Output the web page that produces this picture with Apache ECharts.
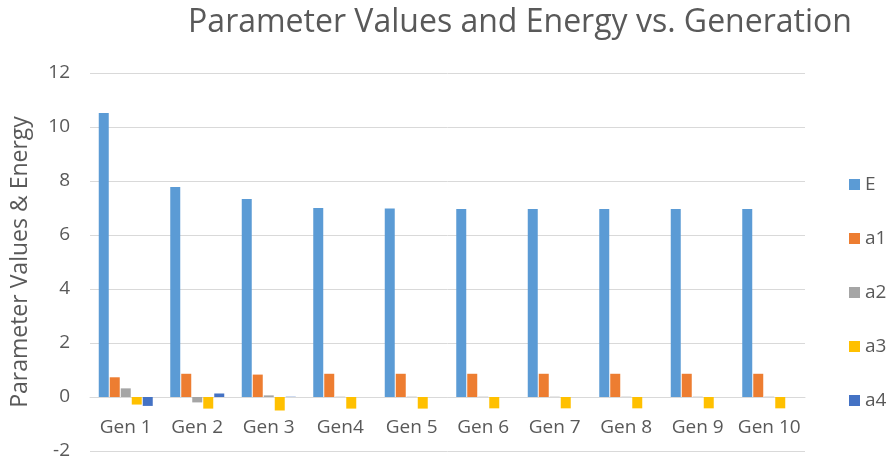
<!DOCTYPE html>
<html><head><meta charset="utf-8">
<script src="https://cdn.jsdelivr.net/npm/echarts@6/dist/echarts.min.js"></script>
<style>html,body{margin:0;padding:0;background:#fff}#c{width:894px;height:462px}</style>
</head><body><div id="c"></div>
<script>
const categories = ['Gen 1','Gen 2','Gen 3','Gen4','Gen 5','Gen 6','Gen 7','Gen 8','Gen 9','Gen 10'];
const E  = [10.52, 7.78, 7.33, 7.0, 6.98, 6.96, 6.96, 6.96, 6.96, 6.96];
const a1 = [0.73, 0.86, 0.83, 0.86, 0.86, 0.86, 0.86, 0.86, 0.86, 0.86];
const a2 = [0.32, -0.2, 0.06, 0.01, 0.01, 0.01, 0.01, 0.01, 0.01, 0.01];
const a3 = [-0.28, -0.43, -0.5, -0.43, -0.43, -0.42, -0.42, -0.42, -0.42, -0.42];
const a4 = [-0.33, 0.13, 0.01, 0, 0, 0, 0, 0, 0, 0];
const seriesNames = ['E','a1','a2','a3','a4'];
const seriesData = [E, a1, a2, a3, a4];
const colors = ['#5B9BD5','#ED7D31','#A5A5A5','#FFC000','#4472C4'];
const font = 'Open Sans';
const chart = echarts.init(document.getElementById('c'));
chart.setOption({
  animation: false,
  color: colors,
  title: {text: 'Parameter Values and Energy vs. Generation', left: 515, top: 2, textAlign: 'center',
    textStyle: {fontFamily: font, fontSize: 32, fontWeight: 'normal', color: '#595959'}},
  grid: {left: 90, right: 89, top: 73, bottom: 11, outerBoundsMode: 'none', containLabel: false},
  legend: {orient: 'vertical', left: 844, top: 170, itemWidth: 11, itemHeight: 11, itemGap: 35,
    icon: 'rect', textStyle: {fontFamily: font, fontSize: 19, color: '#595959'}},
  xAxis: {type: 'category', data: categories,
    axisLine: {onZero: true, lineStyle: {color: '#D9D9D9'}}, axisTick: {show: false},
    axisLabel: {interval: 0, hideOverlap: false, fontFamily: font, fontSize: 19, color: '#595959', margin: -33}},
  yAxis: {type: 'value', min: -2, max: 12, interval: 2,
    name: 'Parameter Values & Energy', nameLocation: 'middle', nameGap: 58,
    nameTextStyle: {fontFamily: font, fontSize: 23, color: '#595959'},
    axisLine: {show: false}, axisTick: {show: false},
    axisLabel: {fontFamily: font, fontSize: 19, color: '#595959', margin: 20},
    splitLine: {lineStyle: {color: '#D9D9D9'}}},
  series: seriesNames.map((n, i) => ({name: n, type: 'bar', data: seriesData[i],
    barWidth: 10, barGap: '10%'}))
});
</script></body></html>
